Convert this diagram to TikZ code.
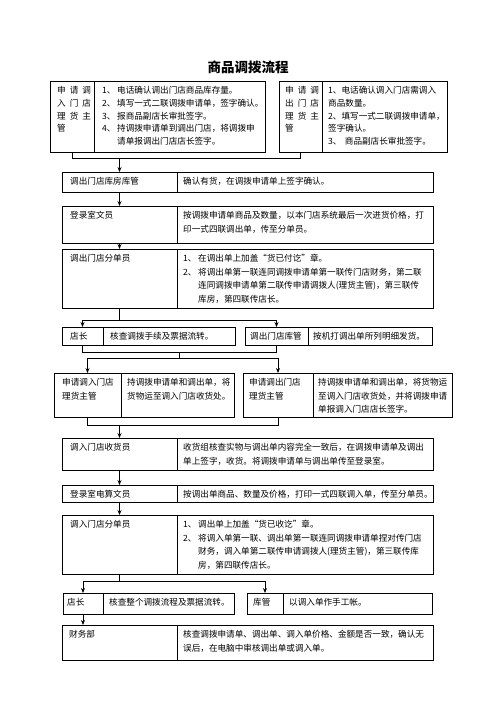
\documentclass[tikz,border=0pt]{standalone}
\usepackage{fontspec}
\usetikzlibrary{arrows.meta,calc}
\newfontfamily\cjk{Noto Sans CJK SC}
\newcommand{\cg}{\hspace{4pt}}
\newcommand{\num}[1]{\makebox[15pt][l]{#1、}}
\newcommand{\hg}{\hspace*{15pt}}

\begin{document}
\begin{tikzpicture}[x=1pt, y=-1pt,
    cell/.style={draw, line width=1pt, anchor=north west, inner sep=0pt, outer sep=0pt},
    txt/.style={anchor=base west, inner sep=0pt, font=\cjk,
        execute at begin node={\fontsize{8.6}{#1}\selectfont}},
    txt/.default=13.5,
    link/.style={line width=0.8pt},
    arr/.style={line width=0.8pt, -{Stealth[length=5pt,width=4pt]}}]
    \fill[white] (0,0) rectangle (496,702);
    \useasboundingbox (0,0) rectangle (496,702);

    \node[font=\cjk\bfseries\fontsize{13.5}{16}\selectfont] (title) at (248,67) {商品调拨流程};

    % boxes: name / left / top / divider / right / bottom
    \foreach \n/\xa/\ya/\xd/\xb/\yb in {A/50/81/94/265/152, B/279/81/322/447/152,
        C/62/172/177/433/192, D/62/206/177/433/243, E/62/249/177/433/308,
        P/62/327/103/235/345, Q/245/327/308/432/345,
        F/54/373/121/234/417, G/243/373/313/452/417,
        H/62/438/177/433/470, I/62/485/177/433/502, J/62/515/177/433/574,
        K/63/593/103/234/614, L/247/593/283/432/614, M/62/625/177/433/660} {
        \node[cell, minimum width=\xd-\xa, minimum height=\yb-\ya] (l\n) at (\xa,\ya) {};
        \node[cell, minimum width=\xb-\xd, minimum height=\yb-\ya] (r\n) at (\xd,\ya) {};
    }

    % texts
    \node[txt=12.8, text width=40] (tlA) at ([shift={(7,12.5)}]lA.north west)
        {申\cg 请\cg 调\\入\cg 门\cg 店\\理\cg 货\cg 主\\管};
    \node[txt=12.8, text width=165] (trA) at ([shift={(8,12.5)}]rA.north west)
        {\num{1}电话确认调出门店商品库存量。\\\num{2}填写一式二联调拨申请单，签字确认。\\
         \num{3}报商品副店长审批签字。\\\num{4}持调拨申请单到调出门店，将调拨申\\\hg 请单报调出门店店长签字。};
    \node[txt=12.8, text width=40] (tlB) at ([shift={(6,12.5)}]lB.north west)
        {申\cg 请\cg 调\\出\cg 门\cg 店\\理\cg 货\cg 主\\管};
    \node[txt=12.8, text width=122] (trB) at ([shift={(6,12.5)}]rB.north west)
        {1、电话确认调入门店需调入\\商品数量。\\2、填写一式二联调拨申请单，\\签字确认。\\3、 商品副店长审批签字。};

    \node[txt, text width=105] (tlC) at ([shift={(8,12.5)}]lC.north west) {调出门店库房库管};
    \node[txt, text width=248] (trC) at ([shift={(6,12.5)}]rC.north west) {确认有货，在调拨申请单上签字确认。};

    \node[txt, text width=105] (tlD) at ([shift={(8,12.5)}]lD.north west) {登录室文员};
    \node[txt, text width=248] (trD) at ([shift={(6,12.5)}]rD.north west)
        {按调拨申请单商品及数量，以本门店系统最后一次进货价格，打\\印一式四联调出单，传至分单员。};

    \node[txt, text width=105] (tlE) at ([shift={(8,12.5)}]lE.north west) {调出门店分单员};
    \node[txt, text width=248] (trE) at ([shift={(6,12.5)}]rE.north west)
        {\num{1}在调出单上加盖“货已付讫”章。\\
         \num{2}将调出单第一联连同调拨申请单第一联传门店财务，第二联\\
         \hg 连同调拨申请单第二联传申请调拨人(理货主管)，第三联传\\\hg 库房，第四联传店长。};

    \node[txt, text width=35] (tlP) at ([shift={(8,12.5)}]lP.north west) {店长};
    \node[txt, text width=125] (trP) at ([shift={(7,12.5)}]rP.north west) {核查调拨手续及票据流转。};
    \node[txt, text width=58] (tlQ) at ([shift={(5,12.5)}]lQ.north west) {调出门店库管};
    \node[txt, text width=120] (trQ) at ([shift={(5,12.5)}]rQ.north west) {按机打调出单所列明细发货。};

    \node[txt, text width=60] (tlF) at ([shift={(8,12.5)}]lF.north west) {申请调入门店\\理货主管};
    \node[txt, text width=108] (trF) at ([shift={(6,12.5)}]rF.north west) {持调拨申请单和调出单，将\\货物运至调入门店收货处。};
    \node[txt, text width=64] (tlG) at ([shift={(6,12.5)}]lG.north west) {申请调出门店\\理货主管};
    \node[txt, text width=134] (trG) at ([shift={(5,12.5)}]rG.north west)
        {持调拨申请单和调出单，将货物运\\至调入门店收货处，并将调拨申请\\单报调入门店店长签字。};

    \node[txt, text width=105] (tlH) at ([shift={(8,12.5)}]lH.north west) {调入门店收货员};
    \node[txt, text width=248] (trH) at ([shift={(6,12.5)}]rH.north west)
        {收货组核查实物与调出单内容完全一致后，在调拨申请单及调出\\单上签字，收货。将调拨申请单与调出单传至登录室。};

    \node[txt, text width=105] (tlI) at ([shift={(8,12.5)}]lI.north west) {登录室电算文员};
    \node[txt, text width=248] (trI) at ([shift={(6,12.5)}]rI.north west)
        {按调出单商品、数量及价格，打印一式四联调入单，传至分单员。};

    \node[txt, text width=105] (tlJ) at ([shift={(8,12.5)}]lJ.north west) {调入门店分单员};
    \node[txt, text width=248] (trJ) at ([shift={(6,12.5)}]rJ.north west)
        {\num{1}调出单上加盖“货已收讫”章。\\
         \num{2}将调入单第一联、调出单第一联连同调拨申请单捏对传门店\\
         \hg 财务，调入单第二联传申请调拨人(理货主管)，第三联传库\\\hg 房，第四联传店长。};

    \node[txt, text width=35] (tlK) at ([shift={(4,12.5)}]lK.north west) {店长};
    \node[txt, text width=125] (trK) at ([shift={(6,12.5)}]rK.north west) {核查整个调拨流程及票据流转。};
    \node[txt, text width=30] (tlL) at ([shift={(6,12.5)}]lL.north west) {库管};
    \node[txt, text width=140] (trL) at ([shift={(6,12.5)}]rL.north west) {以调入单作手工帐。};

    \node[txt, text width=105] (tlM) at ([shift={(7,12.5)}]lM.north west) {财务部};
    \node[txt, text width=248] (trM) at ([shift={(6,12.5)}]rM.north west)
        {核查调拨申请单、调出单、调入单价格、金额是否一致，确认无\\误后，在电脑中审核调出单或调入单。};

    % connectors
    \draw[link] (lA.south) -- ++(0,6) coordinate (jtop) -| (lB.south);
    \draw[arr] (lC.north |- jtop) -- (lC.north);
    \draw[arr] (lC.south) -- (lD.north);
    \draw[arr] (lD.south) -- (lE.north);
    \draw[link] (lE.south) -- ++(0,12) coordinate (jE);
    \draw[arr] (jE) -| (lP.north);
    \draw[arr] (jE) -| (lQ.north);
    \draw[link] (lP.south) -- ++(0,7) -| (lQ.south);
    \draw[link] ($(lP.south)!0.5!(lQ.south)+(0,7)$) -- ++(0,6) coordinate (jPQ);
    \draw[arr] (jPQ) -| (lF.north);
    \draw[arr] (jPQ) -| (lG.north);
    \draw[link] (lF.south) -- ++(0,8) coordinate (jF) -| (lG.south);
    \draw[arr] (lH.north |- jF) -- (lH.north);
    \draw[arr] (lH.south) -- (lI.north);
    \draw[arr] (lI.south) -- (lJ.north);
    \draw[link] (lJ.south) -- ++(0,7) coordinate (jJ);
    \draw[arr] (jJ) -| (lK.north);
    \draw[arr] (jJ) -| (lL.north);
    \draw[arr] (lK.south) -- (lK.south |- lM.north);
\end{tikzpicture}
\end{document}
